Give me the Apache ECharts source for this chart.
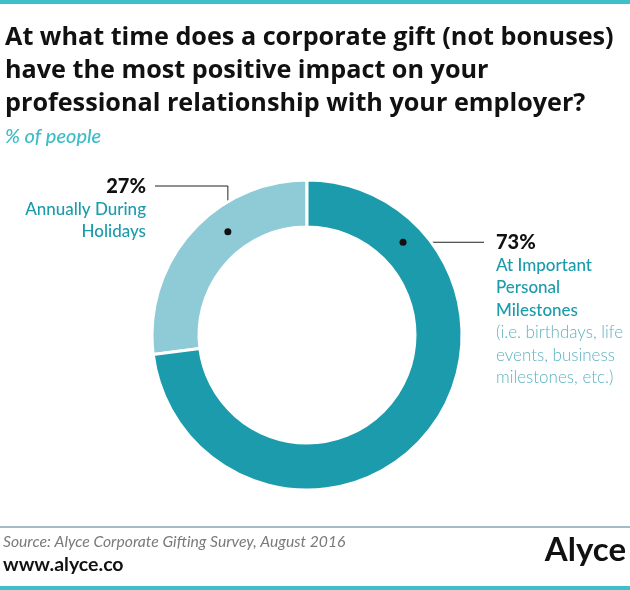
<!DOCTYPE html>
<html>
<head>
<meta charset="utf-8">
<script src="https://cdn.jsdelivr.net/npm/echarts@6/dist/echarts.min.js"></script>
<style>
  html, body { margin: 0; padding: 0; background: #fff; }
  #main { width: 630px; height: 590px; }
</style>
</head>
<body>
<div id="main"></div>
<script>
// data
var categories = ['Annually During Holidays', 'At Important Personal Milestones'];
var values = [27, 73];
var nameLines = [['Annually During', 'Holidays'], ['At Important', 'Personal', 'Milestones']];
var noteLines = [[], ['(i.e. birthdays, life', 'events, business', 'milestones, etc.)']];
var colors = ['#8ecbd7', '#1b9bab'];

var FONT = 'Lato';
var cx = 307, cy = 335, rIn = 108, rOut = 155;

// where the leader dot sits on the ring: [degrees clockwise from top, radius]
var dotPos = [[-37.5, 130], [46, 133.5]];
var dots = dotPos.map(function (d) {
    var a = d[0] * Math.PI / 180;
    return [cx + d[1] * Math.sin(a), cy - d[1] * Math.cos(a)];
});

var pieData = categories.map(function (c, i) {
    return { name: c, value: values[i], itemStyle: { color: colors[i] } };
});

function labelText(i) {
    var s = ['{pct|' + values[i] + '%}'];
    nameLines[i].forEach(function (l) { s.push('{name|' + l + '}'); });
    noteLines[i].forEach(function (l) { s.push('{note|' + l + '}'); });
    return s.join('\n');
}

var option = {
    animation: false,
    title: {
        left: 0,
        top: 16,
        text: 'At what time does a corporate gift (not bonuses)\nhave the most positive impact on your\nprofessional relationship with your employer?',
        textStyle: { fontFamily: 'Open Sans', fontSize: 25.2, fontWeight: 'bold', color: '#111', lineHeight: 33 },
        subtext: '% of people',
        itemGap: 6,
        subtextStyle: { fontFamily: FONT, fontSize: 20, fontStyle: 'italic', fontWeight: 500, color: '#3bbcc6', lineHeight: 22 }
    },
    series: [{
        type: 'pie',
        center: [cx, cy],
        radius: [rIn, rOut],
        startAngle: 90,
        clockwise: false,
        silent: true,
        itemStyle: { borderColor: '#fff', borderWidth: 3 },
        label: {
            show: true,
            formatter: function (p) { return labelText(p.dataIndex); },
            rich: {
                pct: { fontFamily: FONT, fontSize: 20, fontWeight: 900, color: '#111', lineHeight: 23 },
                name: { fontFamily: FONT, fontSize: 17, fontWeight: 500, color: '#1b9bab', lineHeight: 22.5 },
                note: { fontFamily: FONT, fontSize: 17, fontWeight: 300, color: '#5db3c1', lineHeight: 22.5 }
            }
        },
        labelLine: { show: true, lineStyle: { color: '#222', width: 1 } },
        labelLayout: function (p) {
            var d = dots[p.dataIndex];
            if (p.dataIndex === 0) {
                return {
                    x: 146, y: 175, align: 'right', verticalAlign: 'top',
                    labelLinePoints: [[d[0], d[1]], [d[0], 186], [155, 186]]
                };
            }
            return {
                x: 496, y: 231, align: 'left', verticalAlign: 'top',
                labelLinePoints: [[d[0], d[1]], [d[0] + 40, d[1]], [484, d[1]]]
            };
        },
        data: pieData
    }],
    graphic: [
        { type: 'rect', shape: { x: 0, y: 0, width: 630, height: 4 }, style: { fill: '#3fc0c8' } },
        { type: 'rect', shape: { x: 0, y: 586, width: 630, height: 4 }, style: { fill: '#3fc0c8' } },
        { type: 'line', shape: { x1: 0, y1: 527, x2: 630, y2: 527 }, style: { stroke: '#86a3b1', lineWidth: 1.5 } },
        { type: 'circle', shape: { cx: dots[0][0], cy: dots[0][1], r: 3.5 }, style: { fill: '#111' }, z: 100 },
        { type: 'circle', shape: { cx: dots[1][0], cy: dots[1][1], r: 3.5 }, style: { fill: '#111' }, z: 100 },
        { type: 'text', left: 3, top: 534, style: { text: 'Source: Alyce Corporate Gifting Survey, August 2016', font: 'italic 15.7px ' + FONT, fill: '#7a7a7a' } },
        { type: 'text', left: 3, top: 555, style: { text: 'www.alyce.co', font: 'bold 19.5px ' + FONT, fill: '#111' } },
        { type: 'text', right: 4, top: 534, style: { text: 'Alyce', font: 'bold 33px ' + FONT, fill: '#111' } }
    ]
};

var myChart = echarts.init(document.getElementById('main'));
myChart.setOption(option);
</script>
</body>
</html>
